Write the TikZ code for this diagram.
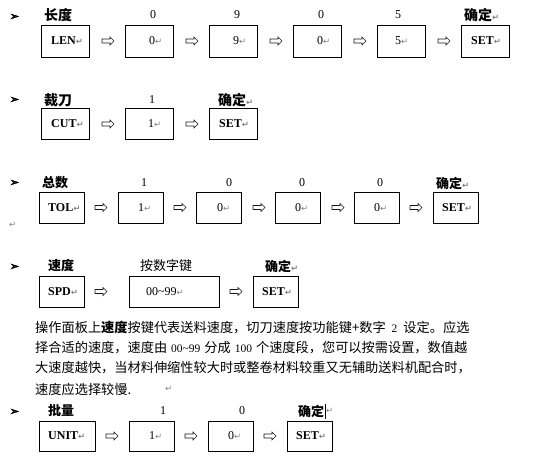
\documentclass[tikz,border=0pt]{standalone}
\usepackage{fontspec}
\setmainfont{Liberation Serif}
\newfontfamily\cjk{Noto Sans CJK SC}
\newfontfamily\dejavu{DejaVu Sans}
\newfontfamily\dejavubul[FakeBold=2.5]{DejaVu Sans}
\usetikzlibrary{shapes.arrows}
\definecolor{retgray}{gray}{0.5}
\newcommand\retmark{{\dejavu\fontsize{8.5}{8.5}\selectfont\color{retgray}↵}}
\newcommand\lat[1]{{\rmfamily\fontsize{11.5}{11.5}\selectfont #1}}
\begin{document}
\begin{tikzpicture}[x=1pt,y=-1pt,
  keybox/.style={draw, line width=0.8pt, minimum height=31pt, inner sep=0pt, anchor=north west},
  ktxt/.style={anchor=west, inner sep=0pt, font=\fontsize{12}{12}\selectfont},
  kbold/.style={ktxt, font=\bfseries\fontsize{12}{12}\selectfont},
  lblA/.style={anchor=west, inner sep=0pt, font=\cjk\bfseries\fontsize{14}{14}\selectfont},
  lblB/.style={anchor=west, inner sep=0pt, font=\cjk\bfseries\fontsize{13}{13}\selectfont},
  lblR/.style={anchor=west, inner sep=0pt, font=\cjk\fontsize{13}{13}\selectfont},
  num/.style={inner sep=0pt, font=\fontsize{12}{12}\selectfont},
  bul/.style={inner sep=0pt, font=\dejavubul\fontsize{11.5}{11.5}\selectfont},
  arr/.style={single arrow, draw=black!90, line width=0.6pt, inner sep=1.7pt, minimum height=12pt, single arrow head extend=2pt, single arrow head indent=0pt},
  para/.style={anchor=west, inner sep=0pt, font=\cjk\fontsize{13.2}{13.2}\selectfont},
  ret/.style={inner sep=0pt, anchor=west}
]
\useasboundingbox (0,0) rectangle (557,462);

% ---------- Row 1 : LEN ----------
\node[bul] (p1) at (14.5,17) {➢};
\node[lblA] (l1) at (44,15) {长度};
\node[num] (n12) at (153,15) {0};
\node[num] (n13) at (237,15) {9};
\node[num] (n14) at (321,15) {0};
\node[num] (n15) at (398,15) {5};
\node[lblA] (n16) at (464,15) {确定\retmark};
\node[keybox, minimum width=48pt, minimum height=32pt] (b11) at (41,25) {};
\node[keybox, minimum width=48pt, minimum height=32pt] (b12) at (125,25) {};
\node[keybox, minimum width=48pt, minimum height=32pt] (b13) at (209,25) {};
\node[keybox, minimum width=48pt, minimum height=32pt] (b14) at (293,25) {};
\node[keybox, minimum width=48pt, minimum height=32pt] (b15) at (377,25) {};
\node[keybox, minimum width=48pt, minimum height=32pt] (b16) at (461,25) {};
\node[kbold] (t11) at (51,41) {LEN\retmark};
\node[ktxt] (t12) at (149,41) {0\retmark};
\node[ktxt] (t13) at (233,41) {9\retmark};
\node[ktxt] (t14) at (317,41) {0\retmark};
\node[ktxt] (t15) at (395,41) {5\retmark};
\node[kbold] (t16) at (471,41) {SET\retmark};
\node[arr] (a11) at (107,41) {};
\node[arr] (a12) at (191,41) {};
\node[arr] (a13) at (275,41) {};
\node[arr] (a14) at (359,41) {};
\node[arr] (a15) at (443,41) {};

% ---------- Row 2 : CUT ----------
\node[bul] (p2) at (14.5,100) {➢};
\node[lblA] (l2) at (44,100) {裁刀};
\node[num] (n22) at (152,100) {1};
\node[lblA] (n23) at (218,100) {确定\retmark};
\node[keybox, minimum width=48pt] (b21) at (41,108) {};
\node[keybox, minimum width=48pt] (b22) at (125,108) {};
\node[keybox, minimum width=48pt] (b23) at (209,108) {};
\node[kbold] (t21) at (51,124) {CUT\retmark};
\node[ktxt] (t22) at (148,124) {1\retmark};
\node[kbold] (t23) at (219,124) {SET\retmark};
\node[arr] (a21) at (107,124) {};
\node[arr] (a22) at (191,124) {};

% ---------- Row 3 : TOL ----------
\node[bul] (p3) at (14.5,183) {➢};
\node[lblB] (l3) at (42,183) {总数};
\node[num] (n32) at (144,183) {1};
\node[num] (n33) at (229,183) {0};
\node[num] (n34) at (302,183) {0};
\node[num] (n35) at (380,183) {0};
\node[lblB] (n36) at (436,183) {确定\retmark};
\node[keybox, minimum width=45pt] (b31) at (39,192) {};
\node[keybox, minimum width=45pt] (b32) at (118,192) {};
\node[keybox, minimum width=45pt] (b33) at (196,192) {};
\node[keybox, minimum width=45pt] (b34) at (275,192) {};
\node[keybox, minimum width=45pt] (b35) at (354,192) {};
\node[keybox, minimum width=45pt] (b36) at (433,192) {};
\node[kbold] (t31) at (48,207.5) {TOL\retmark};
\node[ktxt] (t32) at (138,207.5) {1\retmark};
\node[ktxt] (t33) at (217,207.5) {0\retmark};
\node[ktxt] (t34) at (295,207.5) {0\retmark};
\node[ktxt] (t35) at (374,207.5) {0\retmark};
\node[kbold] (t36) at (442,207.5) {SET\retmark};
\node[arr] (a31) at (100,207.5) {};
\node[arr] (a32) at (179,207.5) {};
\node[arr] (a33) at (258,207.5) {};
\node[arr] (a34) at (337,207.5) {};
\node[arr] (a35) at (415,207.5) {};
\node[ret] (r3) at (9,225) {\retmark};

% ---------- Row 4 : SPD ----------
\node[bul] (p4) at (14.5,267) {➢};
\node[lblB] (l4) at (48,266) {速度};
\node[lblR] (n42) at (140,266) {按数字键};
\node[lblB] (n43) at (265,266) {确定\retmark};
\node[keybox, minimum width=45pt] (b41) at (39,276) {};
\node[keybox, minimum width=90pt] (b42) at (129,276) {};
\node[keybox, minimum width=45pt] (b43) at (253,276) {};
\node[kbold] (t41) at (48,291.5) {SPD\retmark};
\node[ktxt] (t42) at (146,291.5) {00\textasciitilde99\retmark};
\node[kbold] (t43) at (262,291.5) {SET\retmark};
\node[arr] (a41) at (100,291.5) {};
\node[arr] (a42) at (235,291.5) {};

% ---------- Paragraph ----------
\node[para] (q1) at (35,328) {操作面板上\textbf{速度}按键代表送料速度，切刀速度按功能键+数字\hspace{6pt}\lat{2}\hspace{6pt}设定。应选};
\node[para] (q2) at (35,348) {择合适的速度，速度由\hspace{4pt}\lat{00\textasciitilde99}\hspace{4pt}分成\hspace{4pt}\lat{100}\hspace{4pt}个速度段，您可以按需设置，数值越};
\node[para] (q3) at (35,368) {大速度越快，当材料伸缩性较大时或整卷材料较重又无辅助送料机配合时，};
\node[para] (q4) at (35,389) {速度应选择较慢.};
\node[ret] (r4) at (165,389) {\retmark};

% ---------- Row 5 : UNIT ----------
\node[bul] (p5) at (14.5,412) {➢};
\node[lblB] (l5) at (48,411) {批量};
\node[num] (n52) at (163,411) {1};
\node[num] (n53) at (242,411) {0};
\node[lblB] (n54) at (298,411) {确定};
\coordinate (c5a) at (325,404);
\coordinate (c5b) at (325,419);
\draw[line width=0.9pt] (c5a) -- (c5b);
\node[ret] (r5) at (326,411) {\retmark};
\node[keybox, minimum width=56pt, minimum height=30pt] (b51) at (39,421) {};
\node[keybox, minimum width=45pt, minimum height=30pt] (b52) at (129,421) {};
\node[keybox, minimum width=45pt, minimum height=30pt] (b53) at (208,421) {};
\node[keybox, minimum width=45pt, minimum height=30pt] (b54) at (287,421) {};
\node[kbold] (t51) at (48,436) {UNIT\retmark};
\node[ktxt] (t52) at (149,436) {1\retmark};
\node[ktxt] (t53) at (228,436) {0\retmark};
\node[kbold] (t54) at (296,436) {SET\retmark};
\node[arr] (a51) at (111,436) {};
\node[arr] (a52) at (190,436) {};
\node[arr] (a53) at (269,436) {};
\end{tikzpicture}
\end{document}
